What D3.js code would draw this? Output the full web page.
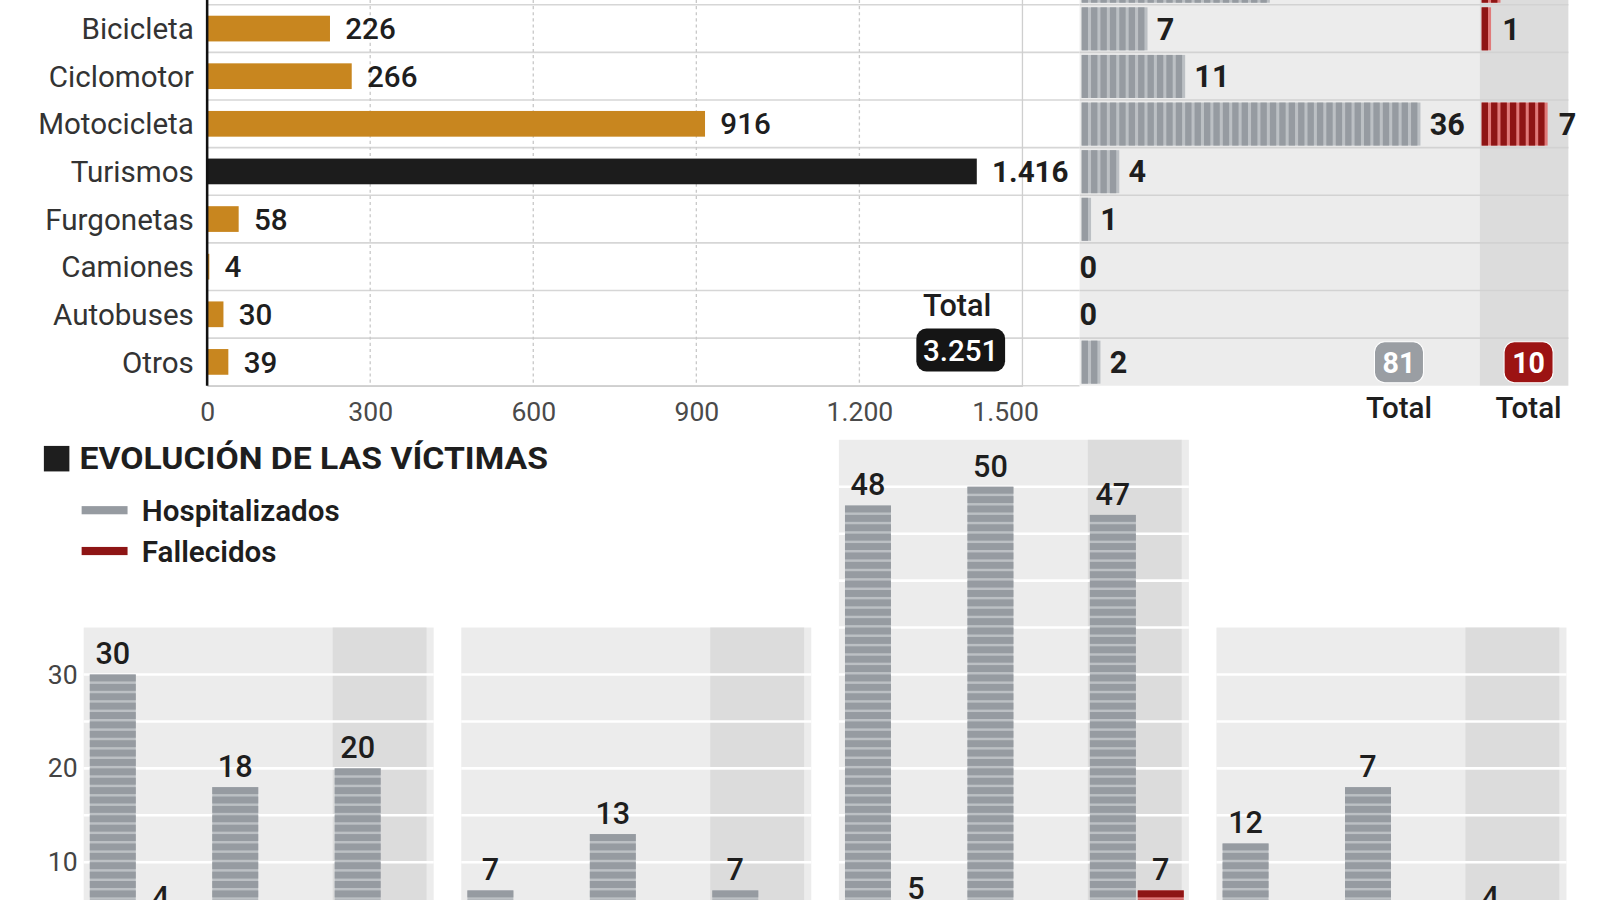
<!DOCTYPE html>
<html>
<head>
<meta charset="utf-8">
<script src="https://cdn.jsdelivr.net/npm/d3@7"></script>
<style>
	body { margin: 0; background: #fff; }
	svg text { font-family: Roboto, "Open Sans", sans-serif; fill: #1e1e1e; }
</style>
</head>
<body>
<div id="chart"></div>
<script>
// DATA
const categories = ['Peatones', 'Bicicleta', 'Ciclomotor', 'Motocicleta', 'Turismos', 'Furgonetas', 'Camiones', 'Autobuses', 'Otros'];
const accidentes = [296, 226, 266, 916, 1416, 58, 4, 30, 39];
const hospitalizados = [20, 7, 11, 36, 4, 1, 0, 0, 2];
const fallecidos = [2, 1, 0, 7, 0, 0, 0, 0, 0];
const accTicks = [0, 300, 600, 900, 1200, 1500];

const evoPanels = [0, 1, 2, 3];
const evoPeriods = [0, 1, 2];
const evoHosp = [[30, 18, 20], [7, 13, 7], [48, 50, 47], [12, 18, 4]];
const evoHospLabels = [['30', '18', '20'], ['7', '13', '7'], ['48', '50', '47'], ['12', '7', '4']];
const evoFall = [[4, 2, 0], [0, 0, 0], [5, 0, 7], [0, 0, 0]];
const evoTop = [35, 35, 55, 35];
const evoTicks = [10, 20, 30];



// THE GOOD STUFF
const width = 1600, height = 900;
const k = 900 / 882; // layout was measured on a 1568-wide grid
const gold = '#c8861f';
const grey = '#969ba1', greyLight = '#bcc0c4';
const red = '#8e1515', redLight = '#e07a7a';
const panelBg = '#ececec', panelDark = '#dcdcdc';

const es = d3.formatLocale({ decimal: ',', thousands: '.', grouping: [3], currency: ['', '€'] });
const fmt = es.format(',d');

const root = d3.select('#chart')
	.append('svg')
	.attr('width', width)
	.attr('height', height)
	.attr('viewBox', [0, 0, width, height]);

root.append('rect').attr('width', width).attr('height', height).attr('fill', '#fff');

const svg = root.append('g').attr('transform', `scale(${k})`);

// shared row scale for the top block (first row sits above the frame)
const yRow = d3.scaleBand()
	.domain(categories)
	.range([-42, 378]);

const rows = categories.map((c, i) => ({
	cat: c,
	acc: accidentes[i],
	hosp: hospitalizados[i],
	fall: fallecidos[i]
}));
const shown = rows.filter(d => yRow(d.cat) >= 0); // rows whose labels fit in the frame



// FUNCTIONS
const drawAccidents = () => {
	const x = d3.scaleLinear().domain([0, 1500]).range([203, 1002]);
	const yBar = d3.scaleBand().domain(categories).range(yRow.range()).paddingInner(0.46).paddingOuter(0.23);

	const g = svg.append('g').attr('class', 'accidents');

	// horizontal row lines
	g.append('g')
		.selectAll('line')
		.data(categories)
		.join('line')
		.attr('x1', 203).attr('x2', 1058)
		.attr('y1', d => yRow(d) + yRow.bandwidth())
		.attr('y2', d => yRow(d) + yRow.bandwidth())
		.attr('stroke', '#d6d6d6')
		.attr('stroke-width', 1.6);

	// vertical gridlines
	g.append('g')
		.selectAll('line')
		.data(accTicks.slice(1))
		.join('line')
		.attr('x1', d => x(d)).attr('x2', d => x(d))
		.attr('y1', 0).attr('y2', 378)
		.attr('stroke', d => d === 1500 ? '#cfcfcf' : '#c9c9c9')
		.attr('stroke-dasharray', d => d === 1500 ? null : '3,3')
		.attr('stroke-width', 1.3);

	// bars
	g.append('g')
		.selectAll('rect')
		.data(rows)
		.join('rect')
		.attr('x', x(0))
		.attr('y', d => yBar(d.cat))
		.attr('width', d => x(d.acc) - x(0))
		.attr('height', yBar.bandwidth())
		.attr('fill', d => d.cat === 'Turismos' ? '#1c1c1c' : gold);

	// value labels
	g.append('g')
		.selectAll('text')
		.data(shown)
		.join('text')
		.attr('x', d => x(d.acc) + 15)
		.attr('y', d => yRow(d.cat) + yRow.bandwidth() / 2)
		.attr('dy', '0.36em')
		.attr('font-size', 29)
		.attr('font-weight', d => d.cat === 'Turismos' ? 700 : 500)
		.text(d => fmt(d.acc));

	// category labels
	g.append('g')
		.selectAll('text')
		.data(shown)
		.join('text')
		.attr('x', 190)
		.attr('y', d => yRow(d.cat) + yRow.bandwidth() / 2)
		.attr('dy', '0.36em')
		.attr('text-anchor', 'end')
		.attr('font-size', 29)
		.style('fill', '#333')
		.text(d => d.cat);

	// axis
	g.append('g')
		.attr('transform', 'translate(0, 378)')
		.call(d3.axisBottom(x).tickValues(accTicks).tickFormat(fmt).tickSize(0).tickPadding(16))
		.call(a => a.select('.domain').attr('stroke', '#cfcfcf').attr('stroke-width', 1.6))
		.call(a => a.selectAll('text')
			.attr('font-size', 26)
			.style('fill', '#4a4a4a')
			.attr('dx', d => d === 1500 ? -17 : 0));

	// y axis line
	g.append('line')
		.attr('x1', x(0)).attr('x2', x(0))
		.attr('y1', 0).attr('y2', 378)
		.attr('stroke', '#111')
		.attr('stroke-width', 2.5);

	// total badge
	const total = d3.sum(accidentes);
	g.append('text')
		.attr('x', 938).attr('y', 310)
		.attr('text-anchor', 'middle')
		.attr('font-size', 30)
		.attr('font-weight', 500)
		.text('Total');
	g.append('rect')
		.attr('x', 898).attr('y', 322)
		.attr('width', 87).attr('height', 42)
		.attr('rx', 10)
		.attr('fill', '#151515');
	g.append('text')
		.attr('x', 941.5).attr('y', 343)
		.attr('dy', '0.36em')
		.attr('text-anchor', 'middle')
		.attr('font-size', 29)
		.attr('font-weight', 500)
		.style('fill', '#fff')
		.text(fmt(total));
};

const stripedBarsH = (g, data, x0, xs, y, h, base, dark) => {
	// horizontal bars made of one block per unit
	g.append('g')
		.selectAll('rect')
		.data(data.filter(d => d.v > 0))
		.join('rect')
		.attr('x', x0)
		.attr('y', d => y(d.cat))
		.attr('width', d => xs(d.v) - x0)
		.attr('height', h)
		.attr('fill', base);

	g.append('g')
		.selectAll('rect')
		.data(data.flatMap(d => d3.range(d.v).map(k => ({ cat: d.cat, k }))))
		.join('rect')
		.attr('x', d => xs(d.k))
		.attr('y', d => y(d.cat))
		.attr('width', d => xs(d.k + 1) - xs(d.k) - 3)
		.attr('height', h)
		.attr('fill', dark);
};

const drawVictims = () => {
	const xH = d3.scaleLinear().domain([0, 42.5]).range([1060, 1452]);
	const xF = d3.scaleLinear().domain([0, 9.2]).range([1452, 1537]);

	const g = svg.append('g').attr('class', 'victims');

	g.append('rect')
		.attr('x', 1058).attr('y', 0)
		.attr('width', 392).attr('height', 378)
		.attr('fill', panelBg);
	g.append('rect')
		.attr('x', 1450).attr('y', 0)
		.attr('width', 87).attr('height', 378)
		.attr('fill', panelDark);

	// row separators
	g.append('g')
		.selectAll('line')
		.data(categories.slice(0, -1))
		.join('line')
		.attr('x1', 1058).attr('x2', 1537)
		.attr('y1', d => yRow(d) + yRow.bandwidth())
		.attr('y2', d => yRow(d) + yRow.bandwidth())
		.attr('stroke', '#d2d2d2')
		.attr('stroke-width', 1.6);

	const y = d => yRow(d) + 2.5;
	const h = yRow.bandwidth() - 4.5;

	stripedBarsH(g, rows.map(d => ({ cat: d.cat, v: d.hosp })), xH(0), xH, y, h, greyLight, grey);
	stripedBarsH(g, rows.map(d => ({ cat: d.cat, v: d.fall })), xF(0), xF, y, h, redLight, red);

	// labels
	g.append('g')
		.selectAll('text')
		.data(shown)
		.join('text')
		.attr('x', d => d.hosp > 0 ? xH(d.hosp) + 9 : xH(0) - 2)
		.attr('y', d => yRow(d.cat) + yRow.bandwidth() / 2)
		.attr('dy', '0.36em')
		.attr('font-size', 30)
		.attr('font-weight', 700)
		.text(d => d.hosp);

	g.append('g')
		.selectAll('text')
		.data(shown.filter(d => d.fall > 0))
		.join('text')
		.attr('x', d => xF(d.fall) + 11)
		.attr('y', d => yRow(d.cat) + yRow.bandwidth() / 2)
		.attr('dy', '0.36em')
		.attr('font-size', 30)
		.attr('font-weight', 700)
		.text(d => d.fall);

	// totals
	const badges = [
		{ cx: 1371, fill: '#9a9ea3', value: d3.sum(hospitalizados) },
		{ cx: 1498, fill: '#9c1313', value: d3.sum(fallecidos) }
	];
	const b = g.append('g')
		.selectAll('g')
		.data(badges)
		.join('g')
		.attr('transform', d => `translate(${d.cx}, 355)`);
	b.append('rect')
		.attr('x', -24).attr('y', -20)
		.attr('width', 48).attr('height', 40)
		.attr('rx', 10)
		.attr('fill', d => d.fill)
		.attr('stroke', '#fff')
		.attr('stroke-width', 1);
	b.append('text')
		.attr('text-anchor', 'middle')
		.attr('dy', '0.36em')
		.attr('font-size', 28)
		.attr('font-weight', 700)
		.style('fill', '#fff')
		.text(d => d.value);
	b.append('text')
		.attr('text-anchor', 'middle')
		.attr('y', 55)
		.attr('font-size', 29)
		.attr('font-weight', 500)
		.text('Total');
};

const drawEvolution = () => {
	const g = svg.append('g').attr('class', 'evolution');

	// title & legend
	g.append('rect')
		.attr('x', 43).attr('y', 437)
		.attr('width', 25).attr('height', 25)
		.attr('fill', '#1e1e1e');
	g.append('text')
		.attr('x', 78).attr('y', 460)
		.attr('font-size', 30)
		.attr('font-weight', 700)
		.attr('textLength', 459)
		.attr('lengthAdjust', 'spacingAndGlyphs')
		.text('EVOLUCIÓN DE LAS VÍCTIMAS');

	const legend = g.append('g')
		.selectAll('g')
		.data([{ name: 'Hospitalizados', c: grey }, { name: 'Fallecidos', c: red }])
		.join('g')
		.attr('transform', (d, i) => `translate(80, ${500 + i * 40})`);
	legend.append('rect')
		.attr('y', -4).attr('width', 45).attr('height', 8)
		.attr('fill', d => d.c);
	legend.append('text')
		.attr('x', 59)
		.attr('dy', '0.36em')
		.attr('font-size', 29)
		.attr('font-weight', 600)
		.text(d => d.name);

	// scales
	const y = d3.scaleLinear().domain([0, 55]).range([937, 431]);
	const xPanel = d3.scaleBand().domain(evoPanels).range([82, 1537]).paddingInner(0.068);
	const xGroup = d3.scaleBand().domain(evoPeriods).range([6, 338]).paddingInner(0.2333);
	const xSub = d3.scaleBand().domain(['hosp', 'fall']).range([0, xGroup.bandwidth()]).paddingInner(0.04);

	const panels = g.append('g')
		.selectAll('g')
		.data(evoPanels)
		.join('g')
		.attr('transform', d => `translate(${xPanel(d)}, 0)`);

	panels.append('rect')
		.attr('y', d => y(evoTop[d]))
		.attr('width', 343)
		.attr('height', d => y(0) - y(evoTop[d]))
		.attr('fill', panelBg);
	panels.append('rect')
		.attr('x', xGroup(2) - 2)
		.attr('y', d => y(evoTop[d]))
		.attr('width', xGroup.bandwidth())
		.attr('height', d => y(0) - y(evoTop[d]))
		.attr('fill', panelDark);

	// white gridlines every 5
	panels.append('g')
		.selectAll('line')
		.data(d => d3.range(5, evoTop[d], 5))
		.join('line')
		.attr('x1', 0).attr('x2', 343)
		.attr('y1', d => y(d)).attr('y2', d => y(d))
		.attr('stroke', '#fff')
		.attr('stroke-width', 2.5);

	// bars: one block per unit
	const bars = p => evoPeriods.flatMap(i => [
		{ key: 'hosp', i, v: evoHosp[p][i], label: evoHospLabels[p][i] },
		{ key: 'fall', i, v: evoFall[p][i], label: String(evoFall[p][i]) }
	]);
	const barX = d => xGroup(d.i) + xSub(d.key);

	const bar = panels.append('g')
		.selectAll('g')
		.data(p => bars(p))
		.join('g');

	bar.append('rect')
		.attr('x', barX)
		.attr('y', d => y(d.v))
		.attr('width', xSub.bandwidth())
		.attr('height', d => y(0) - y(d.v))
		.attr('fill', d => d.key === 'hosp' ? greyLight : redLight);

	bar.append('g')
		.selectAll('rect')
		.data(d => d3.range(d.v).map(k => ({ ...d, k })))
		.join('rect')
		.attr('x', barX)
		.attr('y', d => y(d.k + 1))
		.attr('width', xSub.bandwidth())
		.attr('height', d => y(d.k) - y(d.k + 1) - 2.4)
		.attr('fill', d => d.key === 'hosp' ? grey : red);

	// zero labels would sit below the frame
	bar.filter(d => d.v > 0)
		.append('text')
		.attr('x', d => barX(d) + xSub.bandwidth() / 2)
		.attr('y', d => y(d.v) - 10)
		.attr('text-anchor', 'middle')
		.attr('font-size', 30)
		.attr('font-weight', 500)
		.text(d => d.label);

	// y axis labels on first panel
	g.append('g')
		.attr('transform', 'translate(76, 0)')
		.call(d3.axisLeft(y).tickValues(evoTicks).tickSize(0).tickPadding(0))
		.call(a => a.select('.domain').remove())
		.call(a => a.selectAll('text')
			.attr('font-size', 26)
			.style('fill', '#444'));
};

drawAccidents();
drawVictims();
drawEvolution();
</script>
</body>
</html>
